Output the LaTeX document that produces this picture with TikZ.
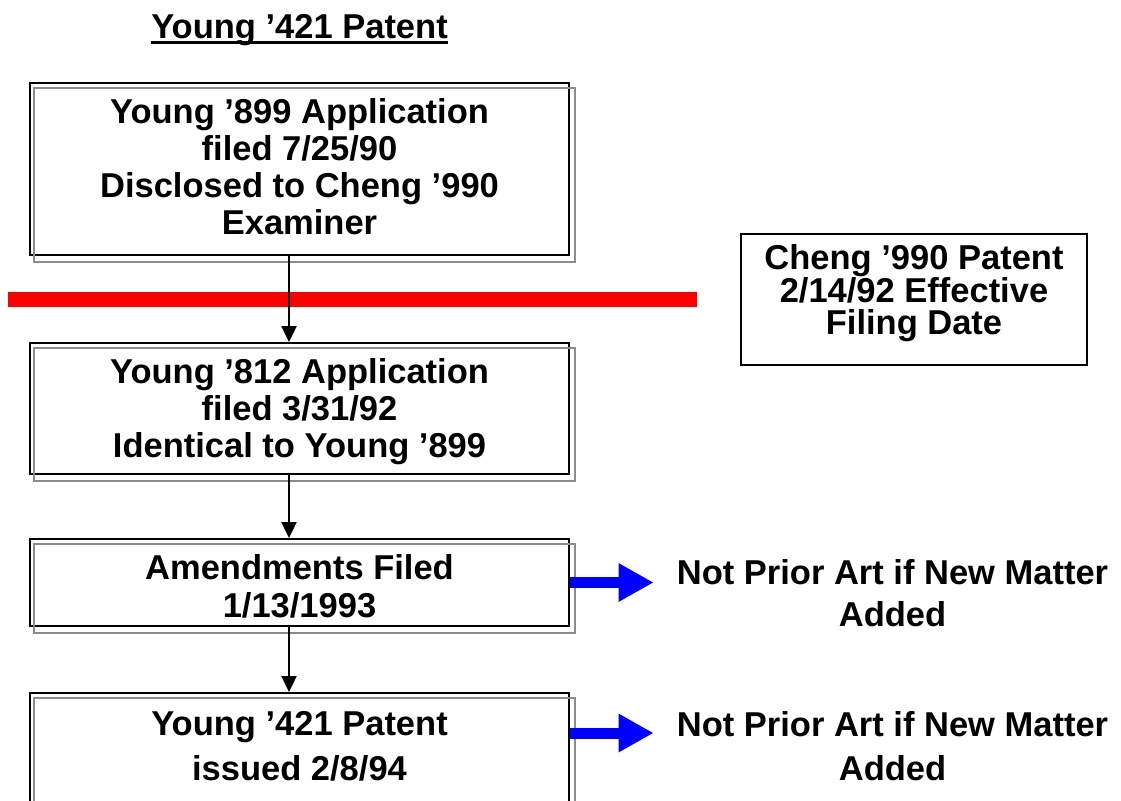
\documentclass[tikz,border=0pt]{standalone}
\usepackage{fontspec}
\setmainfont{Liberation Sans}
\usetikzlibrary{arrows.meta, positioning}

\begin{document}
\begin{tikzpicture}[x=1pt, y=-1pt,
        patbox/.style={draw, line width=2pt, minimum width=539pt, align=center,
            inner sep=0pt, font=\fontsize{34.5pt}{#1}\selectfont\bfseries},
        patbox/.default=37pt,
        shadowbox/.style={draw=black!45, line width=2pt},
        flowarrow/.style={line width=2.4pt, -{Triangle[length=16pt, width=15pt]}},
        bluearrow/.style={blue, line width=11pt, -{Triangle[length=35pt, width=36pt]}},
        notelabel/.style={align=center, inner xsep=23pt, inner ysep=0pt,
            font=\fontsize{34.5pt}{#1}\selectfont\bfseries}]
    \useasboundingbox (0,0) rectangle (1121,800);

    % title
    \node[anchor=base, inner sep=0pt, font=\fontsize{34.5pt}{37pt}\selectfont\bfseries]
        (title) at (299.5,39) {Young ’421 Patent};
    \draw[line width=3pt] ([yshift=-4pt]title.base west) -- ([yshift=-4pt]title.base east);

    % boxes
    \node[patbox, minimum height=172pt, text depth=6pt] (box1) at (299.5,169)
        {Young ’899 Application\\filed 7/25/90\\Disclosed to Cheng ’990\\Examiner};
    \node[patbox, minimum height=131pt, text depth=1pt] (box2) at (299.5,408.5)
        {Young ’812 Application\\filed 3/31/92\\Identical to Young ’899};
    \node[patbox=38pt, minimum height=87pt, text height=71pt] (box3) at (299.5,582.5)
        {Amendments Filed\\1/13/1993};
    \node[patbox=45pt, minimum height=148pt, text depth=42pt, anchor=north] (box4) at (299.5,692)
        {Young ’421 Patent\\issued 2/8/94};
    \foreach \b in {box1,box2,box3,box4}
        \draw[shadowbox] ([shift={(5,6)}]\b.north west) rectangle ([shift={(5,6)}]\b.south east);

    \node[patbox=32pt, minimum width=346pt, minimum height=131pt, text depth=20pt]
        (cheng) at (914,299.5) {Cheng ’990 Patent\\2/14/92 Effective\\Filing Date};

    % cut-off line
    \coordinate (redstart) at (8,299.5);
    \coordinate (redend) at ([xshift=-43pt]cheng.west);
    \draw[red, line width=15pt] (redstart) -- (redend);

    % flow
    \coordinate (spine) at (289,0);
    \draw[flowarrow] (box1.south -| spine) -- (box2.north -| spine);
    \draw[flowarrow] (box2.south -| spine) -- (box3.north -| spine);
    \draw[flowarrow] (box3.south -| spine) -- (box4.north -| spine);

    % notes
    \node[notelabel=42pt] (note1) at (892.5,593) {Not Prior Art if New Matter\\Added};
    \node[notelabel=44pt] (note2) at (892.5,746) {Not Prior Art if New Matter\\Added};
    \coordinate (out4) at ([yshift=-41pt]box4.north east);
    \draw[bluearrow] (box3.east) -- (box3.east -| note1.west);
    \draw[bluearrow] (out4) -- (out4 -| note2.west);
\end{tikzpicture}
\end{document}
